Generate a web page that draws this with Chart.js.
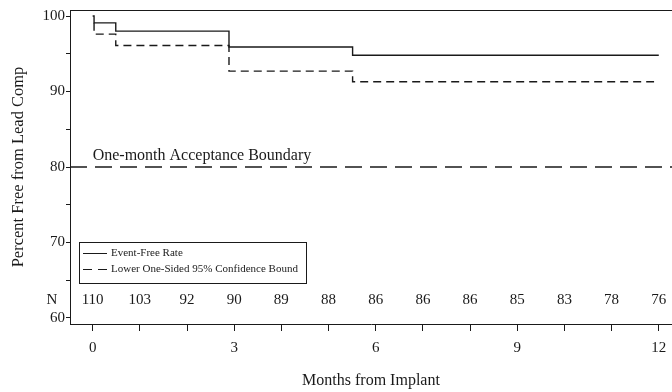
<!DOCTYPE html>
<html lang="en">
<head>
<meta charset="UTF-8">
<title>Percent Free from Lead Comp</title>
<script src="https://cdn.jsdelivr.net/npm/chart.js"></script>
<style>
  html, body { margin: 0; padding: 0; background: #fff; }
  #wrap { width: 672px; height: 392px; }
</style>
</head>
<body>
<div id="wrap"><canvas id="kmChart" width="672" height="392"></canvas></div>
<script>
// event-free curve (months, percent)
const eventMonths = [0, 0.03, 0.49, 2.89, 5.51, 12.0];
const eventRate = [100, 99.1, 98.0, 95.9, 94.8, 94.8];

// lower one-sided 95% confidence bound
const lowerMonths = [0.03, 0.03, 0.49, 2.89, 5.51, 11.9];
const lowerBound = [99.1, 97.6, 96.1, 92.7, 91.3, 91.3];

// acceptance boundary
const boundaryValue = 80;
const boundaryLabel = 'One-month Acceptance Boundary';

// number at risk
const nMonths = [0, 1, 2, 3, 4, 5, 6, 7, 8, 9, 10, 11, 12];
const nAtRisk = [110, 103, 92, 90, 89, 88, 86, 86, 86, 85, 83, 78, 76];

const xMajor = [0, 3, 6, 9, 12];
const yTicks = [60, 65, 70, 75, 80, 85, 90, 95, 100];
const yMajor = [60, 70, 80, 90, 100];

const legendItems = ['Event-Free Rate', 'Lower One-Sided 95% Confidence Bound'];

const serif = '"Liberation Serif", "Times New Roman", serif';
const ink = '#1a1a1a';

const toPoints = (xs, ys) => xs.map((x, i) => ({ x: x, y: ys[i] }));

const extras = {
  id: 'extras',
  afterDatasetsDraw(chart) {
    const ctx = chart.ctx;
    const xs = chart.scales.x, ys = chart.scales.y;
    const area = chart.chartArea;
    ctx.save();

    // top frame line
    ctx.strokeStyle = ink;
    ctx.lineWidth = 1;
    ctx.beginPath();
    ctx.moveTo(area.left, area.top + 0.5);
    ctx.lineTo(area.right, area.top + 0.5);
    ctx.stroke();

    // boundary label
    ctx.fillStyle = ink;
    ctx.font = '16px ' + serif;
    ctx.textBaseline = 'middle';
    ctx.textAlign = 'left';
    ctx.fillText(boundaryLabel, xs.getPixelForValue(0), ys.getPixelForValue(81.5));

    // number at risk row
    const nY = ys.getPixelForValue(62.4);
    ctx.textAlign = 'center';
    ctx.font = '15px ' + serif;
    ctx.fillText('N', 52, nY);
    nMonths.forEach((m, i) => {
      ctx.fillText(String(nAtRisk[i]), xs.getPixelForValue(m), nY);
    });

    // legend box
    const bx = 79, by = 242, bw = 227, bh = 41;
    ctx.fillStyle = '#fff';
    ctx.fillRect(bx, by, bw, bh);
    ctx.strokeStyle = ink;
    ctx.strokeRect(bx + 0.5, by + 0.5, bw, bh);
    ctx.font = '11px ' + serif;
    ctx.fillStyle = ink;
    ctx.textAlign = 'left';
    const rows = [253, 269];
    rows.forEach((ry, i) => {
      ctx.setLineDash(i === 0 ? [] : [9, 6]);
      ctx.beginPath();
      ctx.moveTo(83, ry + 0.5);
      ctx.lineTo(107, ry + 0.5);
      ctx.stroke();
      ctx.setLineDash([]);
      ctx.fillText(legendItems[i], 111, ry);
    });
    ctx.restore();
  }
};

new Chart(document.getElementById('kmChart'), {
  type: 'line',
  data: {
    datasets: [
      {
        label: legendItems[0],
        data: toPoints(eventMonths, eventRate),
        stepped: 'before',
        borderColor: ink,
        borderWidth: 1.4,
        pointRadius: 0,
        fill: false
      },
      {
        label: legendItems[1],
        data: toPoints(lowerMonths, lowerBound),
        stepped: 'before',
        borderColor: ink,
        borderWidth: 1.4,
        borderDash: [8, 5],
        pointRadius: 0,
        fill: false
      },
      {
        label: boundaryLabel,
        data: [{ x: -0.48, y: boundaryValue }, { x: 12.3, y: boundaryValue }],
        borderColor: ink,
        borderWidth: 1.5,
        borderDash: [17, 8],
        pointRadius: 0,
        fill: false
      }
    ]
  },
  options: {
    responsive: false,
    animation: false,
    layout: { padding: { top: 10, right: 0, left: 0, bottom: 0 } },
    plugins: { legend: { display: false }, tooltip: { enabled: false } },
    scales: {
      x: {
        type: 'linear',
        min: -0.48,
        max: 12.28,
        afterBuildTicks: s => { s.ticks = nMonths.map(v => ({ value: v })); },
        afterFit: s => { s.height = 68; s.paddingLeft = 0; s.paddingRight = 0; },
        ticks: {
          color: ink,
          font: { family: serif, size: 15 },
          padding: 8,
          maxRotation: 0,
          autoSkip: false,
          callback: v => xMajor.includes(v) ? String(v) : ''
        },
        grid: { drawOnChartArea: false, drawTicks: true, tickLength: 7, color: ink },
        border: { display: true, color: ink, width: 1 },
        title: {
          display: true,
          text: 'Months from Implant',
          color: ink,
          font: { family: serif, size: 16 },
          padding: { top: 0, bottom: 2 }
        }
      },
      y: {
        min: 59.2,
        max: 100.8,
        afterBuildTicks: s => { s.ticks = yTicks.map(v => ({ value: v })); },
        afterFit: s => { s.width = 70; s.paddingTop = 0; s.paddingBottom = 0; },
        ticks: {
          color: ink,
          font: { family: serif, size: 15 },
          padding: 1,
          autoSkip: false,
          callback: v => yMajor.includes(v) ? String(v) : ''
        },
        grid: { drawOnChartArea: false, drawTicks: true, tickLength: 4, color: ink },
        border: { display: true, color: ink, width: 1 },
        title: {
          display: true,
          text: 'Percent Free from Lead Comp',
          color: ink,
          font: { family: serif, size: 16.5 },
          padding: { top: 9, bottom: 0 }
        }
      }
    }
  },
  plugins: [extras]
});
</script>
</body>
</html>
